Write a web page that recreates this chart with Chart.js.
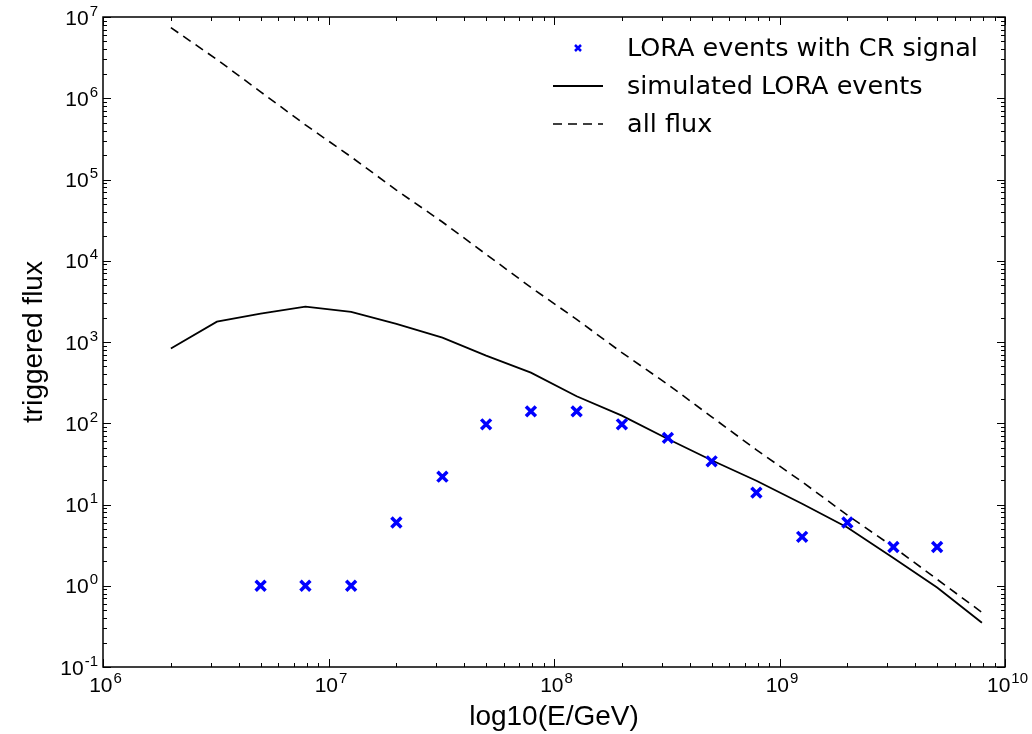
<!DOCTYPE html>
<html>
<head>
<meta charset="utf-8">
<script src="https://cdn.jsdelivr.net/npm/chart.js@4"></script>
<style>
  body { margin: 0; background: #fff; }
  #wrap { width: 1032px; height: 734px; }
</style>
</head>
<body>
<div id="wrap"><canvas id="myChart" width="1032" height="734"></canvas></div>
<script>
// energies (GeV) of the measured LORA events
const eventEnergy = [5.0e6, 7.9e6, 1.26e7, 2.0e7, 3.2e7, 5.0e7, 7.9e7, 1.26e8,
                     2.0e8, 3.2e8, 5.0e8, 7.9e8, 1.26e9, 2.0e9, 3.2e9, 5.0e9];
const eventFlux = [1, 1, 1, 6, 22, 97, 140, 140, 97, 66, 34, 14, 4, 6, 3, 3];

// energies for the simulated curve and the all flux line
const simEnergy = [2.0e6, 3.2e6, 5.0e6, 7.9e6, 1.26e7, 2.0e7, 3.2e7, 5.0e7, 7.9e7, 1.26e8,
                   2.0e8, 3.2e8, 5.0e8, 7.9e8, 1.26e9, 2.0e9, 3.2e9, 5.0e9, 7.9e9];
const simFlux = [830, 1780, 2240, 2720, 2350, 1670, 1130, 680, 420, 215,
                 124, 64, 35, 19.6, 10.2, 5.2, 2.2, 0.95, 0.35];
const allFlux = [7.4e6, 3.0e6, 1.2e6, 4.7e5, 1.9e5, 7.4e4, 3.0e4, 1.2e4, 4.7e3, 1.9e3,
                 740, 300, 120, 47, 19, 7.4, 3.0, 1.2, 0.47];

const xTicks = [1e6, 1e7, 1e8, 1e9, 1e10];
const yTicks = [1e-1, 1e0, 1e1, 1e2, 1e3, 1e4, 1e5, 1e6, 1e7];

const pts = (xs, ys) => xs.map((x, i) => ({ x: x, y: ys[i] }));
const expOf = v => String(Math.round(Math.log10(v)));

// ticks inside the frame on all four sides, the frame, and 10^n labels
const frameTicks = {
    id: 'frameTicks',
    afterDraw(chart) {
        const ctx = chart.ctx;
        const a = chart.chartArea;
        const xs = chart.scales.x, ys = chart.scales.y;
        ctx.save();
        ctx.strokeStyle = '#000';
        ctx.lineWidth = 1;
        function decades(min, max, cb) {
            for (let d = Math.round(Math.log10(min)); d < Math.round(Math.log10(max)); d++) {
                for (let m = 1; m < 10; m++) cb(m * Math.pow(10, d), m === 1);
            }
            cb(max, true);
        }
        decades(xs.min, xs.max, (v, major) => {
            const p = Math.round(xs.getPixelForValue(v)) + 0.5;
            const len = major ? 8 : 4;
            ctx.beginPath();
            ctx.moveTo(p, a.bottom); ctx.lineTo(p, a.bottom - len);
            ctx.moveTo(p, a.top); ctx.lineTo(p, a.top + len);
            ctx.stroke();
        });
        decades(ys.min, ys.max, (v, major) => {
            const p = Math.round(ys.getPixelForValue(v)) + 0.5;
            const len = major ? 8 : 4;
            ctx.beginPath();
            ctx.moveTo(a.left, p); ctx.lineTo(a.left + len, p);
            ctx.moveTo(a.right, p); ctx.lineTo(a.right - len, p);
            ctx.stroke();
        });
        ctx.lineWidth = 1.5;
        ctx.strokeRect(a.left, a.top, a.right - a.left, a.bottom - a.top);

        // tick labels like 10^n with raised exponent
        const base = '21px "Liberation Sans"';
        const sup = '15px "Liberation Sans"';
        ctx.fillStyle = '#000';
        ctx.textBaseline = 'alphabetic';
        function label(v, x, y, anchor) {
            ctx.font = base;
            const w1 = ctx.measureText('10').width;
            ctx.font = sup;
            const w2 = ctx.measureText(expOf(v)).width;
            const left = anchor === 'right' ? x - w1 - w2 : x - (w1 + w2) / 2;
            ctx.font = base;
            ctx.textAlign = 'left';
            ctx.fillText('10', left, y);
            ctx.font = sup;
            ctx.fillText(expOf(v), left + w1 + 1, y - 9);
        }
        xTicks.forEach(v => label(v, xs.getPixelForValue(v) + 2, a.bottom + 25, 'center'));
        yTicks.forEach(v => label(v, a.left - 6, ys.getPixelForValue(v) + 7.5, 'right'));
        ctx.restore();
    }
};

// legend drawn in the upper right of the plot area
const innerLegend = {
    id: 'innerLegend',
    afterDraw(chart) {
        const ctx = chart.ctx;
        const a = chart.chartArea;
        const x0 = a.right - 452;
        const y0 = a.top + 31;
        ctx.save();
        ctx.font = '25.5px "DejaVu Sans"';
        ctx.textBaseline = 'middle';
        ctx.fillStyle = '#000';
        chart.data.datasets.forEach((ds, i) => {
            const y = y0 + i * 38;
            if (ds.showLine) {
                ctx.strokeStyle = ds.borderColor;
                ctx.lineWidth = ds.borderWidth;
                ctx.setLineDash(ds.borderDash || []);
                ctx.beginPath();
                ctx.moveTo(x0, y); ctx.lineTo(x0 + 50, y);
                ctx.stroke();
                ctx.setLineDash([]);
            } else {
                const c = x0 + 25, r = 3;
                ctx.strokeStyle = ds.pointBorderColor;
                ctx.lineWidth = 2.5;
                ctx.beginPath();
                ctx.moveTo(c - r, y - r); ctx.lineTo(c + r, y + r);
                ctx.moveTo(c - r, y + r); ctx.lineTo(c + r, y - r);
                ctx.stroke();
            }
            ctx.fillText(ds.label, x0 + 74, y + 1);
        });
        ctx.restore();
    }
};

const ctx = document.getElementById('myChart').getContext('2d');
new Chart(ctx, {
    type: 'scatter',
    data: {
        datasets: [{
            label: 'LORA events with CR signal',
            data: pts(eventEnergy, eventFlux),
            showLine: false,
            pointStyle: 'crossRot',
            pointRadius: 7,
            pointBorderWidth: 3.5,
            pointBorderColor: '#0000ff',
            pointBackgroundColor: '#0000ff'
        },
        {
            label: 'simulated LORA events',
            data: pts(simEnergy, simFlux),
            showLine: true,
            borderColor: '#000',
            borderWidth: 1.8,
            pointRadius: 0,
            tension: 0
        },
        {
            label: 'all flux',
            data: pts(simEnergy, allFlux),
            showLine: true,
            borderColor: '#000',
            borderWidth: 1.6,
            borderDash: [9, 6],
            pointRadius: 0,
            tension: 0
        }]
    },
    options: {
        responsive: false,
        animation: false,
        layout: { padding: { left: 0, top: 17, right: 27, bottom: 0 } },
        plugins: { legend: { display: false }, tooltip: { enabled: false } },
        scales: {
            x: {
                type: 'logarithmic',
                min: 1e6, max: 1e10,
                grid: { display: false, drawTicks: false },
                border: { display: false },
                afterBuildTicks: s => { s.ticks = xTicks.map(v => ({ value: v })); },
                afterFit: s => { s.height = 67; },
                ticks: { display: false },
                title: {
                    display: true, text: 'log10(E/GeV)', color: '#000',
                    font: { family: 'Liberation Sans', size: 28 },
                    padding: { top: 0, bottom: 0 }
                }
            },
            y: {
                type: 'logarithmic',
                min: 1e-1, max: 1e7,
                grid: { display: false, drawTicks: false },
                border: { display: false },
                afterBuildTicks: s => { s.ticks = yTicks.map(v => ({ value: v })); },
                afterFit: s => { s.width = 103; },
                ticks: { display: false },
                title: {
                    display: true, text: 'triggered flux', color: '#000',
                    font: { family: 'Liberation Sans', size: 28 },
                    padding: { top: 17, bottom: 0 }
                }
            }
        }
    },
    plugins: [frameTicks, innerLegend]
});
</script>
</body>
</html>
